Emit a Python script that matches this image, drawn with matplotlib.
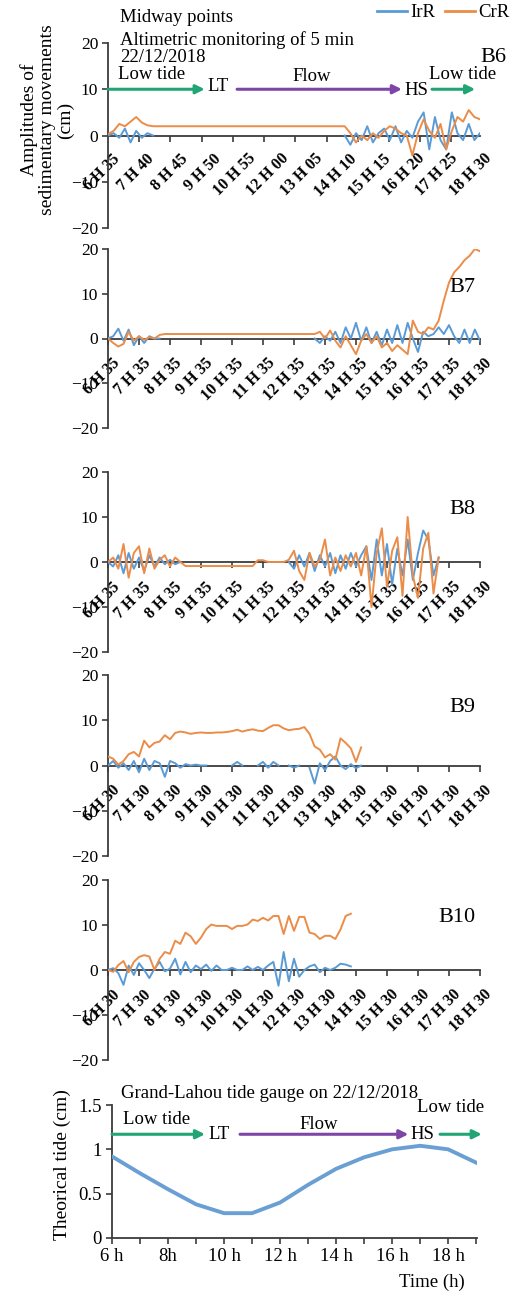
import numpy as np
import matplotlib
matplotlib.use('Agg')
import matplotlib.pyplot as plt
import matplotlib.transforms as mtransforms
from matplotlib.lines import Line2D

plt.rcParams['font.family'] = ['Liberation Serif', 'DejaVu Serif']

nan = np.nan

# colours
IRR_COLOR = '#5B9BD5'
CRR_COLOR = '#EB8C48'
GREEN = '#22A574'
PURPLE = '#7D45A8'
AXIS_COLOR = '#3C3C3C'

# category labels of the x axes
labels_b6 = ['6 H 35', '7 H 40', '8 H 45', '9 H 50', '10 H 55', '12 H 00',
             '13 H 05', '14 H 10', '15 H 15', '16 H 20', '17 H 25', '18 H 30']
labels_b7 = ['6 H 35', '7 H 35', '8 H 35', '9 H 35', '10 H 35', '11 H 35', '12 H 35',
             '13 H 35', '14 H 35', '15 H 35', '16 H 35', '17 H 35', '18 H 30']
labels_b8 = labels_b7
labels_b9 = ['6 H 30', '7 H 30', '8 H 30', '9 H 30', '10 H 30', '11 H 30', '12 H 30',
             '13 H 30', '14 H 30', '15 H 30', '16 H 30', '17 H 30', '18 H 30']
labels_b10 = labels_b9

# B6 (cm)
b6_irr = ([0.0, 0.5, -0.5, 1.5, -1.5, 1.0, -0.5, 0.5, 0.0]
          + [nan] * 33
          + [0.0, -2.0, 0.5, -1.0, 2.0, -1.5, 0.5, 1.5, -1.0, 2.0, -1.5, 1.0, -0.5,
             3.0, 5.0, -3.0, 4.0, -1.0, -3.0, 5.0, 0.5, -1.0, 2.5, -1.0, 0.5])
b6_crr = [0.3, 1.0, 2.5, 2.0, 3.0, 4.0, 2.8, 2.2,
          2.0, 2.0, 2.0, 2.0, 2.0, 2.0, 2.0, 2.0, 2.0, 2.0, 2.0, 2.0, 2.0, 2.0, 2.0,
          2.0, 2.0, 2.0, 2.0, 2.0, 2.0, 2.0, 2.0, 2.0, 2.0, 2.0, 2.0, 2.0, 2.0, 2.0,
          2.0, 2.0, 2.0, 2.0, 2.0,
          0.5, -1.5, 0.0, -1.0, 0.5, -0.5, 1.0, 2.0, 1.5, 0.5, 0.0, -4.3, 0.5, 3.5,
          1.0, -0.5, 2.5, -3.0, 1.0, 4.0, 3.0, 5.5, 4.0, 3.5]

# B7 (cm)
b7_irr = ([0.0, 0.5, 2.2, -0.5, 2.0, -1.5, 0.5, -1.0, 0.5, 0.0, 0.0]
          + [nan] * 29
          + [0.0, -1.0, 0.5, -0.5, 1.5, -1.0, 2.5, 0.0, 3.5, -0.5, 2.5, -1.0, 1.5,
             -1.5, 2.0, -1.0, 3.0, -1.0, 3.5, 0.0, -3.0, 1.5, 0.5, 1.0, 2.5, 1.0,
             3.0, 0.5, -1.0, 2.0, -1.0, 2.0, -0.5])
b7_crr = [0.0, -1.0, -1.8, -1.2, 1.5, -0.5, 0.5, -0.3, 0.3, 0.0, 0.8,
          1.0, 1.0, 1.0, 1.0, 1.0, 1.0, 1.0, 1.0, 1.0, 1.0, 1.0, 1.0, 1.0, 1.0, 1.0,
          1.0, 1.0, 1.0, 1.0, 1.0, 1.0, 1.0, 1.0, 1.0, 1.0, 1.0, 1.0, 1.0, 1.0, 1.0,
          1.5, 0.0, 1.8, -0.5, -2.0, 0.5, -1.5, -3.5, -0.5, 1.0, -1.0, 0.5, -2.0,
          -1.0, -2.8, -1.5, -2.5, -3.5, 4.0, 1.5, 1.0, 2.5, 2.0, 4.0, 8.5, 12.5,
          14.8, 16.0, 17.5, 18.5, 20.0, 19.5]

# B8 (cm)
b8_irr = ([0.0, -1.0, 1.5, -2.5, 2.0, -1.5, 1.0, -2.0, 1.5, -1.0, 1.0, -0.5, 0.5, -0.5, 0.0]
          + [nan] * 20
          + [0.0, -1.5, 1.5, -1.0, 2.0, -2.0, 1.5, -1.0, 2.0, -2.5, 1.5, -1.5, 2.0,
             -1.0, 1.5, 3.5, -4.0, 5.0, -3.0, 4.0, -5.0, 3.0, -3.0, 5.0, -4.0, 2.0,
             7.0, 5.0, -3.0, 1.0]
          + [nan] * 8)
b8_crr = ([0.0, 1.0, -1.5, 4.0, -3.5, 2.0, 3.5, -2.5, 3.0, -1.5, 0.5, 1.5, -1.0, 1.0, 0.0,
           -0.9, -0.9, -0.9, -0.9, -0.9, -0.9, -0.9, -0.9, -0.9, -0.9, -0.9, -0.9,
           -0.9, -0.9, 0.4, 0.4, 0.0, 0.0, 0.0, 0.0,
           0.5, 2.5, -2.0, -4.0, 2.0, -1.0, 0.5, 5.0, -3.0, 1.0, -2.0, 1.5, -1.0,
           2.0, -3.0, 3.5, -10.0, 2.0, 7.5, -5.5, 2.5, 5.5, -7.5, 10.0, -3.0, -8.0,
           3.0, 6.5, -7.0, 1.0]
          + [nan] * 8)

# B9 (cm)
b9_irr = ([0.0, 1.0, -0.5, 0.5, -1.0, 1.0, -1.5, 1.5, -1.0, 1.0, 0.5, -2.5, 1.0,
           0.5, -0.5, 0.3, 0.0, 0.2, 0.0, 0.0]
          + [nan] * 4 + [0.0, 0.8, 0.0] + [nan] * 2
          + [0.0, 0.8, -0.5, 0.8, 0.0] + [nan] + [0.0, -0.5, 0.0] + [nan]
          + [-0.5, -4.0, 0.5, -1.0, 1.0, 2.0, 0.0, -0.8, 0.3, -0.6, 0.0]
          + [nan] * 23)
b9_crr = ([2.0, 1.5, 0.2, 1.0, 2.5, 3.0, 2.0, 5.5, 4.0, 5.0, 5.3, 6.7, 5.8, 7.2,
           7.5, 7.3, 7.0, 7.2, 7.3, 7.2, 7.2, 7.3, 7.3, 7.4, 7.6, 7.9, 7.5, 7.8,
           8.0, 7.7, 7.6, 8.3, 8.9, 8.9, 8.2, 7.8, 8.0, 8.1, 8.5, 7.0, 4.2, 3.5,
           1.8, 2.5, 1.3, 6.0, 5.0, 3.8, 0.8, 4.0]
          + [nan] * 23)

# B10 (cm)
b10_irr = ([0.0, 0.4, -0.7, -3.3, 1.0, -1.1, 1.5, 0.0, -1.8, 0.3, 1.8, -0.3, 0.3,
            2.5, -1.0, 1.8, -0.5, 1.0, 0.2, 1.2, -0.2, 1.0, 0.0, 0.0, 0.5, 0.0,
            0.0, 0.8, 0.0, 0.7, 0.0, 1.0, 1.8, -3.5, 4.0, -2.5, 2.5, -1.5, 0.0,
            0.8, 1.2, -0.5, 0.5, 0.0, 0.5, 1.4, 1.2, 0.8]
           + [nan] * 25)
b10_crr = ([0.0, -0.4, 1.1, 2.0, -0.5, 1.8, 2.9, 3.3, 3.0, 0.0, 2.5, 4.0, 3.6,
            6.5, 5.8, 8.3, 7.5, 5.8, 7.2, 9.1, 10.1, 9.8, 9.8, 9.8, 9.1, 9.8, 9.8,
            10.1, 11.2, 10.9, 11.6, 11.0, 12.0, 12.0, 8.0, 12.0, 8.7, 11.8, 11.8,
            8.3, 8.0, 6.9, 7.6, 7.6, 6.9, 9.0, 12.0, 12.5]
           + [nan] * 25)

# Grand-Lahou theoretical tide
tide_hours = [6, 7, 8, 9, 10, 11, 12, 13, 14, 15, 16, 17, 18, 19]
tide_values = [0.92, 0.73, 0.55, 0.38, 0.28, 0.28, 0.40, 0.60, 0.78, 0.91, 1.0, 1.04, 1.0, 0.85]
tide_tick_labels = ['6 h', '', '8h', '', '10 h', '', '12 h', '', '14 h', '', '16 h', '', '18 h', '']

W, H = 531, 1292
fig = plt.figure(figsize=(W / 100, H / 100), dpi=100)


def px_rect(left, top, right, bottom):
    return [left / W, 1 - bottom / H, (right - left) / W, (bottom - top) / H]


def style_axes(ax):
    for s in ['top', 'right']:
        ax.spines[s].set_visible(False)
    ax.spines['bottom'].set_position(('data', 0))
    for s in ['left', 'bottom']:
        ax.spines[s].set_color(AXIS_COLOR)
        ax.spines[s].set_linewidth(1.3)
    ax.set_facecolor('none')


def draw_panel(rect, irr, crr, labels, hourly=False):
    ax = fig.add_axes(rect)
    x = np.arange(len(irr))
    ax.plot(x, irr, color=IRR_COLOR, lw=1.4, zorder=3)
    ax.plot(x, crr, color=CRR_COLOR, lw=1.4, zorder=4)
    n = len(irr) - 1
    ax.set_xlim(0, n)
    ax.set_ylim(-20, 20)
    ax.set_yticks([-20, -10, 0, 10, 20])
    style_axes(ax)
    ax.set_xticks(np.linspace(0, n, len(labels)))
    ax.set_xticklabels(labels, rotation=45, ha='right', va='top',
                       rotation_mode='anchor', fontsize=11.5, fontweight='bold')
    ax.tick_params(axis='y', labelsize=12.5, length=4, width=1.2,
                   color=AXIS_COLOR, pad=3)
    if hourly:
        # tick marks every hour, labels every 65 min
        ax.tick_params(axis='x', which='major', length=0, pad=11)
        ax.set_xticks(np.arange(0, n + 0.01, n * 60 / 715), minor=True)
        ax.tick_params(axis='x', which='minor', length=4, width=1.2, color=AXIS_COLOR)
    else:
        ax.tick_params(axis='x', length=4, width=1.2, color=AXIS_COLOR, pad=8)
    shift = mtransforms.ScaledTranslation(4 / 100, 0, fig.dpi_scale_trans)
    for lab in ax.get_xticklabels():
        lab.set_transform(lab.get_transform() + shift)
    return ax


def arrow(ax, x0, x1, y, color, coords):
    ax.annotate('', xy=(x1, y), xytext=(x0, y), xycoords=coords, textcoords=coords,
                arrowprops=dict(arrowstyle='-|>', color=color, lw=2.2,
                                mutation_scale=13, shrinkA=0, shrinkB=0),
                annotation_clip=False)


ax6 = draw_panel(px_rect(108, 43, 480, 228), b6_irr, b6_crr, labels_b6, hourly=True)
ax7 = draw_panel(px_rect(108, 249, 480, 428), b7_irr, b7_crr, labels_b7)
ax8 = draw_panel(px_rect(108, 472, 480, 652), b8_irr, b8_crr, labels_b8)
ax9 = draw_panel(px_rect(108, 675, 480, 856), b9_irr, b9_crr, labels_b9)
ax10 = draw_panel(px_rect(108, 880, 480, 1060), b10_irr, b10_crr, labels_b10)

# tide phases on B6
fc = ('axes fraction', 'data')
arrow(ax6, 0.0, 0.26, 10, GREEN, fc)
arrow(ax6, 0.347, 0.79, 10, PURPLE, fc)
arrow(ax6, 0.871, 0.987, 10, GREEN, fc)
tf = ax6.get_yaxis_transform()
ax6.text(0.118, 13.2, 'Low tide', transform=tf, ha='center', va='center', fontsize=13.5)
ax6.text(0.268, 10.5, 'LT', transform=tf, ha='left', va='center', fontsize=13.5)
ax6.text(0.548, 12.8, 'Flow', transform=tf, ha='center', va='center', fontsize=13.5)
ax6.text(0.797, 9.8, 'HS', transform=tf, ha='left', va='center', fontsize=13.5)
ax6.text(0.954, 13.2, 'Low tide', transform=tf, ha='center', va='center', fontsize=13.5)

# panel names
for name, (px, py) in [('B6', (493, 58)), ('B7', (462, 287)), ('B8', (462, 510)),
                       ('B9', (462, 708)), ('B10', (457, 918))]:
    fig.text(px / W, 1 - py / H, name, ha='center', va='center', fontsize=16)

# header
fig.text(120 / W, 1 - 18 / H, 'Midway points', ha='left', va='center', fontsize=13.5)
fig.text(120 / W, 1 - 40 / H, 'Altimetric monitoring of 5 min', ha='left', va='center', fontsize=13.5)
fig.text(120 / W, 1 - 58 / H, '22/12/2018', ha='left', va='center', fontsize=13.5)
fig.text(47 / W, 1 - 120 / H, 'Amplitudes of\nsedimentary movements\n(cm)', rotation=90,
         ha='center', va='center', multialignment='center', fontsize=14, linespacing=1.05)

handles = [Line2D([], [], color=IRR_COLOR, lw=2), Line2D([], [], color=CRR_COLOR, lw=2)]
fig.legend(handles, ['IrR', 'CrR'], loc='upper right', bbox_to_anchor=(0.978, 1.004), ncol=2,
           frameon=False, fontsize=13.5, handlelength=1.6, handletextpad=0.2,
           columnspacing=0.5, borderaxespad=0.1)

# tide gauge panel
axt = fig.add_axes(px_rect(112, 1105, 477, 1238))
axt.plot(tide_hours, tide_values, color='#6A9FD4', lw=2.8, zorder=3)
axt.set_xlim(6, 19.03)
axt.set_ylim(0, 1.5)
axt.set_yticks([0, 0.5, 1, 1.5])
axt.set_yticklabels(['0', '0.5', '1', '1.5'])
axt.set_xticks(tide_hours)
axt.set_xticklabels(tide_tick_labels, ha='right')
style_axes(axt)
axt.tick_params(axis='both', labelsize=13.5, length=4, width=1.2, color=AXIS_COLOR)
axt.tick_params(axis='x', pad=3)

arrow(axt, 6.0, 9.32, 1.17, GREEN, 'data')
arrow(axt, 10.57, 16.58, 1.17, PURPLE, 'data')
arrow(axt, 17.71, 19.2, 1.17, GREEN, 'data')
axt.text(7.6, 1.34, 'Low tide', ha='center', va='center', fontsize=13.5)
axt.text(9.45, 1.17, 'LT', ha='left', va='center', fontsize=13.5)
axt.text(13.37, 1.28, 'Flow', ha='center', va='center', fontsize=13.5)
axt.text(16.65, 1.17, 'HS', ha='left', va='center', fontsize=13.5)
axt.text(18.07, 1.47, 'Low tide', ha='center', va='center', fontsize=13.5, clip_on=False)

fig.text(270 / W, 1 - 1093 / H, 'Grand-Lahou tide gauge on 22/12/2018',
         ha='center', va='center', fontsize=13.5)
fig.text(62 / W, 1 - 1165 / H, 'Theorical tide (cm)', rotation=90,
         ha='center', va='center', fontsize=14)
fig.text(432 / W, 1 - 1282 / H, 'Time (h)', ha='center', va='center', fontsize=13.5)

fig.savefig('out.png', dpi=100)
